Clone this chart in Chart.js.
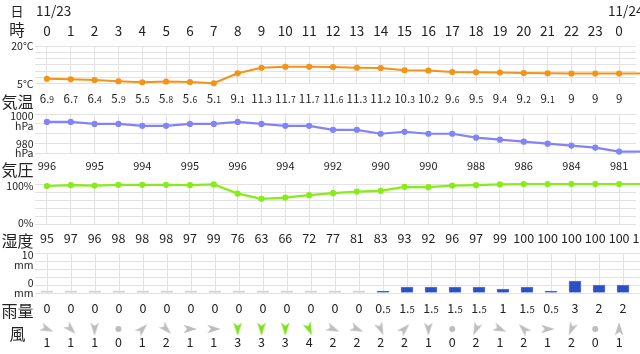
<!DOCTYPE html>
<html><head><meta charset="utf-8">
<script src="https://cdn.jsdelivr.net/npm/chart.js@4/dist/chart.umd.min.js"></script>
<style>
html,body{margin:0;padding:0;background:#fff;}
#wrap{position:relative;width:640px;height:354px;overflow:hidden;background:#fff;}
#wrap canvas{position:absolute;left:0;top:0;}
</style></head><body>
<div id="wrap">
<canvas id="cTemp" width="640" height="354"></canvas>
<canvas id="cPres" width="640" height="354"></canvas>
<canvas id="cHum" width="640" height="354"></canvas>
<canvas id="cRain" width="640" height="354"></canvas>
<canvas id="cWind" width="640" height="354"></canvas>
</div>
<script>
// ---------- data ----------
const hours      = [0,1,2,3,4,5,6,7,8,9,10,11,12,13,14,15,16,17,18,19,20,21,22,23,24,25];
const hourLabels = ['0','1','2','3','4','5','6','7','8','9','10','11','12','13','14','15','16','17','18','19','20','21','22','23','0','1'];
const dateLabels = [{hour:0, text:'11/23'}, {hour:24, text:'11/24'}];
const temp      = [6.9,6.7,6.4,5.9,5.5,5.8,5.6,5.1,9.1,11.3,11.7,11.7,11.6,11.3,11.2,10.3,10.2,9.6,9.5,9.4,9.2,9.1,9,9,9,9];
const pressure  = [996,996,995,995,994,994,995,995,996,995,994,994,992,992,990,991,990,990,988,987,986,985,984,983,981,981];
const humidity  = [95,97,96,98,98,98,97,99,76,63,66,72,77,81,83,93,92,96,97,99,100,100,100,100,100,100];
const rain      = [0,0,0,0,0,0,0,0,0,0,0,0,0,0,0.5,1.5,1.5,1.5,1.5,1,1.5,0.5,3,2,2];
const windSpeed = [1,1,1,0,1,2,1,1,3,3,3,4,2,2,2,2,1,0,2,1,2,1,2,0,1];
const windDir   = ['西北西','北西','北','静穏','南西','北西','西','西','北','北','北','北北西',
                   '西北西','西北西','北北西','南西','北','静穏','北北東','西北西','南東','西','北北東','静穏','南'];
const rowTitles = {temp:'気温', pres:'気圧', hum:'湿度', rain:'雨量', wind:'風', date:'日', hour:'時'};

// ---------- style / layout ----------
const W = 640, H = 354;
const FONT = '"Noto Sans CJK JP","Noto Sans",sans-serif';
const TXT = '#222';
const GRID = '#e2e2e2';
const C_TEMP = '#f29418', C_PRES = '#8383f8', C_HUM = '#88ec18', C_RAIN = '#2a50c2';
const C_WIND_HI = '#7ee21a', C_WIND_LO = '#bdbdbd', C_ZERO = '#cccccc';
const LEFT = 35;
const X_MIN = -0.5, X_MAX = X_MIN + (W - LEFT) / 24;
const bands = {temp:[46,83.5], pres:[114,153.5], hum:[184,224], rain:[253,293], wind:[322,336]};
const DIRS = ['北','北北東','北東','東北東','東','東南東','南東','南南東','南','南南西','南西','西南西','西','西北西','北西','北北西'];

function f(px){ return px + 'px ' + FONT; }
function drawNum(ctx, str, x, yBase, big, small){
  ctx.fillStyle = TXT; ctx.textBaseline = 'alphabetic';
  const i = str.indexOf('.');
  if (i < 0){ ctx.font = f(big); ctx.textAlign = 'center'; ctx.fillText(str, x, yBase); return; }
  const a = str.slice(0, i + 1), b = str.slice(i + 1);
  ctx.font = f(big); const wa = ctx.measureText(a).width;
  ctx.font = f(small); const wb = ctx.measureText(b).width;
  const x0 = x - (wa + wb) / 2;
  ctx.textAlign = 'left';
  ctx.font = f(big); ctx.fillText(a, x0, yBase);
  ctx.font = f(small); ctx.fillText(b, x0 + wa, yBase);
}
function title(ctx, t, x, y, px){
  ctx.font = f(px); ctx.fillStyle = TXT; ctx.textAlign = 'center'; ctx.textBaseline = 'middle';
  ctx.fillText(t, x, y);
}
function axisLabel(ctx, lines, yBase){
  ctx.font = f(10.5); ctx.fillStyle = TXT; ctx.textAlign = 'right'; ctx.textBaseline = 'alphabetic';
  lines.forEach((l, k) => ctx.fillText(l, 33.5, yBase + k * 9.5));
}
function rowPlugin(fn){
  return { id:'rowText', afterDraw(chart){ const ctx = chart.ctx; ctx.save(); fn(ctx, chart.scales.x, chart.scales.y); ctx.restore(); } };
}

function makeOptions(key, yOpts, showGrid = true){
  const [top, bottom] = bands[key];
  return {
    responsive:false, animation:false, devicePixelRatio:1,
    layout:{padding:{top:top, bottom:H - bottom, left:0, right:0}},
    plugins:{legend:{display:false}, tooltip:{enabled:false}},
    scales:{
      x:{type:'linear', min:X_MIN, max:X_MAX, offset:false,
         afterBuildTicks:s => { s.ticks = hours.slice(0, 25).map(v => ({value:v})); },
         ticks:{display:false}, grid:{display:showGrid, color:GRID, drawTicks:false, offset:false}, border:{display:false}},
      y:Object.assign({afterFit:s => { s.width = LEFT; },
         grid:{display:showGrid, color:GRID, drawTicks:false}, border:{display:false}}, yOpts)
    }
  };
}

function lineDS(data, color){
  return {data:data.map((v, i) => ({x:hours[i], y:v})), borderColor:color, backgroundColor:color,
          borderWidth:2.2, pointRadius:3.1, pointBorderWidth:0, pointBackgroundColor:color, tension:0, clip:false};
}

// ---------- temperature (with header rows) ----------
new Chart(document.getElementById('cTemp'), {
  type:'line',
  data:{datasets:[lineDS(temp, C_TEMP)]},
  options:makeOptions('temp', {min:5, max:20, ticks:{display:false, stepSize:2.5}}),
  plugins:[rowPlugin((ctx, x, y) => {
    title(ctx, rowTitles.date, 17, 11.5, 13);
    dateLabels.forEach(d => { ctx.font = f(13.5); ctx.fillStyle = TXT; ctx.textAlign = 'left'; ctx.textBaseline = 'alphabetic';
      ctx.fillText(d.text, x.getPixelForValue(d.hour) - 11, 15.5); });
    title(ctx, rowTitles.hour, 17, 30, 15.5);
    hourLabels.forEach((t, i) => { ctx.font = f(13.5); ctx.fillStyle = TXT; ctx.textAlign = 'center'; ctx.textBaseline = 'alphabetic';
      ctx.fillText(t, x.getPixelForValue(hours[i]), 36); });
    axisLabel(ctx, ['20°C'], y.getPixelForValue(20) + 4);
    axisLabel(ctx, ['5°C'], y.getPixelForValue(5) + 4.5);
    title(ctx, rowTitles.temp, 17.5, 101.5, 16);
    temp.forEach((v, i) => drawNum(ctx, String(v), x.getPixelForValue(hours[i]), 103.3, 11.5, 8.5));
  })]
});

// ---------- pressure ----------
new Chart(document.getElementById('cPres'), {
  type:'line',
  data:{datasets:[lineDS(pressure, C_PRES)]},
  options:makeOptions('pres', {min:980, max:1000, ticks:{display:false, stepSize:5}}),
  plugins:[rowPlugin((ctx, x, y) => {
    axisLabel(ctx, ['1000', 'hPa'], y.getPixelForValue(1000) + 6);
    axisLabel(ctx, ['980', 'hPa'], y.getPixelForValue(980) - 6);
    title(ctx, rowTitles.pres, 17.5, 169.7, 16);
    pressure.forEach((v, i) => { if (hours[i] % 2 === 0) drawNum(ctx, String(v), x.getPixelForValue(hours[i]), 170, 11, 11); });
  })]
});

// ---------- humidity ----------
new Chart(document.getElementById('cHum'), {
  type:'line',
  data:{datasets:[lineDS(humidity, C_HUM)]},
  options:makeOptions('hum', {min:0, max:100, ticks:{display:false, stepSize:20}}),
  plugins:[rowPlugin((ctx, x, y) => {
    axisLabel(ctx, ['100%'], y.getPixelForValue(100) + 6);
    axisLabel(ctx, ['0%'], y.getPixelForValue(0) + 3);
    title(ctx, rowTitles.hum, 17.5, 240.5, 16);
    humidity.forEach((v, i) => drawNum(ctx, String(v), x.getPixelForValue(hours[i]), 242.7, 12.5, 12.5));
  })]
});

// ---------- rain ----------
new Chart(document.getElementById('cRain'), {
  type:'bar',
  data:{datasets:[{data:rain.map((v, i) => ({x:hours[i], y:v})), barThickness:12, minBarLength:2,
    backgroundColor:c => (c.raw && c.raw.y > 0 ? C_RAIN : C_ZERO),
    borderColor:c => (c.raw && c.raw.y > 0 ? '#5b7bd6' : C_ZERO), borderWidth:{top:1, left:1, right:1, bottom:0}}]},
  options:makeOptions('rain', {min:0, max:10, ticks:{display:false, stepSize:2}}),
  plugins:[rowPlugin((ctx, x, y) => {
    axisLabel(ctx, ['10', 'mm'], y.getPixelForValue(10) + 6.3);
    axisLabel(ctx, ['0', 'mm'], y.getPixelForValue(0) - 5.7);
    title(ctx, rowTitles.rain, 17.5, 310.5, 16);
    rain.forEach((v, i) => drawNum(ctx, String(v), x.getPixelForValue(hours[i]), 313.3, 12.5, 9.5));
  })]
});

// ---------- wind ----------
function arrowImg(color){
  const c = document.createElement('canvas'); c.width = 18; c.height = 18;
  const g = c.getContext('2d'); g.translate(9, 9);
  g.beginPath(); g.moveTo(7, 0); g.lineTo(-6.5, -4.3); g.lineTo(-3, 0); g.lineTo(-6.5, 4.3); g.closePath();
  g.fillStyle = color; g.fill(); return c;
}
const imgHi = arrowImg(C_WIND_HI), imgLo = arrowImg(C_WIND_LO);
new Chart(document.getElementById('cWind'), {
  type:'scatter',
  data:{datasets:[{data:windSpeed.map((v, i) => ({x:hours[i], y:0})),
    pointStyle:c => { const s = windSpeed[c.dataIndex]; return windDir[c.dataIndex] === '静穏' ? 'circle' : (s >= 3 ? imgHi : imgLo); },
    rotation:c => { const d = DIRS.indexOf(windDir[c.dataIndex]); return d < 0 ? 0 : d * 22.5 + 90; },
    pointRadius:3, pointBackgroundColor:C_WIND_LO, pointBorderColor:C_WIND_LO, pointBorderWidth:0, clip:false}]},
  options:makeOptions('wind', {min:-1, max:1, ticks:{display:false}}, false),
  plugins:[rowPlugin((ctx, x, y) => {
    title(ctx, rowTitles.wind, 17.5, 333.5, 16);
    windSpeed.forEach((v, i) => drawNum(ctx, String(v), x.getPixelForValue(hours[i]), 346.7, 12.5, 12.5));
  })]
});
</script>
</body></html>
